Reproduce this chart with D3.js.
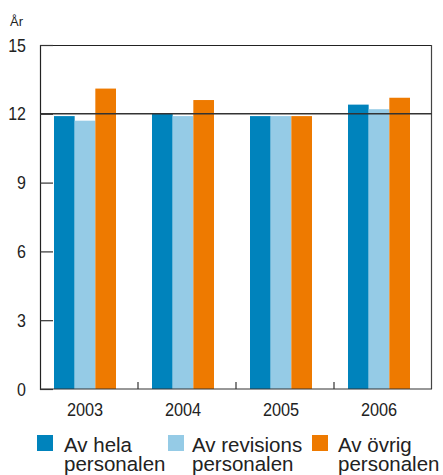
<!DOCTYPE html>
<html>
<head>
<meta charset="utf-8">
<script src="https://cdn.jsdelivr.net/npm/d3@7"></script>
<style>
  html, body { margin: 0; padding: 0; background: #fff; }
  svg { display: block; font-family: "Liberation Sans", Arial, sans-serif; }
</style>
</head>
<body>
<svg id="chart" width="443" height="475"></svg>
<script>
// Genomsnittlig anställningstid (år)
const years = ["2003", "2004", "2005", "2006"];
const seriesNames = [
  ["Av hela", "personalen"],
  ["Av revisions", "personalen"],
  ["Av övrig", "personalen"]
];
const helaPersonalen = [11.9, 12.0, 11.9, 12.4];
const revisionsPersonalen = [11.7, 11.9, 11.9, 12.2];
const ovrigPersonalen = [13.1, 12.6, 11.9, 12.7];
const yTicks = [0, 3, 6, 9, 12, 15];
const colors = ["#0083BC", "#95CBE6", "#EE7A00"];

const allSeries = [helaPersonalen, revisionsPersonalen, ovrigPersonalen];

const svg = d3.select("#chart");
const plotLeft = 40, plotRight = 432, plotTop = 45, plotBottom = 389;

const x = d3.scaleBand().domain(years).range([plotLeft, plotRight]).padding(0);
const xInner = d3.scaleBand().domain(d3.range(3)).range([14, 76]).padding(0);
const y = d3.scaleLinear().domain([0, 15]).range([plotBottom, plotTop]);

// Bars
allSeries.forEach((vals, s) => {
  svg.append("g").selectAll("rect")
    .data(vals)
    .join("rect")
    .attr("x", (d, i) => x(years[i]) + xInner(s))
    .attr("y", d => y(d))
    .attr("width", xInner.bandwidth())
    .attr("height", d => y(0) - y(d))
    .attr("fill", colors[s]);
});

// Frame: top and right border
svg.append("line").attr("x1", plotLeft).attr("x2", plotRight).attr("y1", plotTop + 0.5).attr("y2", plotTop + 0.5)
  .attr("stroke", "#222").attr("stroke-width", 1.2);
svg.append("line").attr("x1", plotRight - 0.5).attr("x2", plotRight - 0.5).attr("y1", plotTop).attr("y2", plotBottom)
  .attr("stroke", "#444").attr("stroke-width", 1.2);

// Reference line at 12
svg.append("line").attr("x1", plotLeft).attr("x2", plotRight).attr("y1", y(12)).attr("y2", y(12))
  .attr("stroke", "#333").attr("stroke-width", 1.6);

// Y axis
const yAxis = d3.axisRight(y).tickValues(yTicks).tickSize(13).tickFormat("");
const yg = svg.append("g").attr("transform", `translate(${plotLeft},0)`).call(yAxis);
yg.select(".domain").attr("stroke", "#222").attr("stroke-width", 1.2);
yg.selectAll(".tick line").attr("stroke", "#333").attr("stroke-width", 1.2);

// Tick labels: slightly tall glyphs
svg.append("g").selectAll("text")
  .data(yTicks)
  .join("text")
  .attr("transform", d => `translate(26,${y(d) + 6.5}) scale(1,1.15)`)
  .attr("text-anchor", "end")
  .attr("font-size", 16)
  .attr("fill", "#222")
  .text(d => d);

svg.append("text").attr("x", 10).attr("y", 26).attr("font-size", 13).attr("fill", "#222").text("År");

// X axis
const xg = svg.append("g").attr("transform", `translate(0,${plotBottom})`);
xg.append("line").attr("x1", plotLeft).attr("x2", plotRight).attr("stroke", "#333").attr("stroke-width", 1.2);
xg.selectAll("line.sep")
  .data(years.slice(1))
  .join("line")
  .attr("class", "sep")
  .attr("x1", d => x(d)).attr("x2", d => x(d))
  .attr("y1", 0).attr("y2", -7)
  .attr("stroke", "#333").attr("stroke-width", 1.2);
xg.selectAll("text")
  .data(years)
  .join("text")
  .attr("transform", d => `translate(${x(d) + (xInner.range()[0] + xInner.range()[1]) / 2},26.5) scale(1,1.17)`)
  .attr("text-anchor", "middle")
  .attr("font-size", 16.3)
  .attr("fill", "#222")
  .text(d => d);

// Legend
const legendSquareX = [37, 168, 312];
const legendTextX = [64, 192, 338];
const lg = svg.append("g");
seriesNames.forEach((lines, i) => {
  lg.append("rect").attr("x", legendSquareX[i]).attr("y", 435)
    .attr("width", 16).attr("height", 16).attr("fill", colors[i]);
  lg.append("text").attr("font-size", 20.5).attr("fill", "#222")
    .selectAll("tspan").data(lines).join("tspan")
    .attr("x", legendTextX[i]).attr("y", (d, j) => 451.5 + j * 19)
    .text(d => d);
});
</script>
</body>
</html>
